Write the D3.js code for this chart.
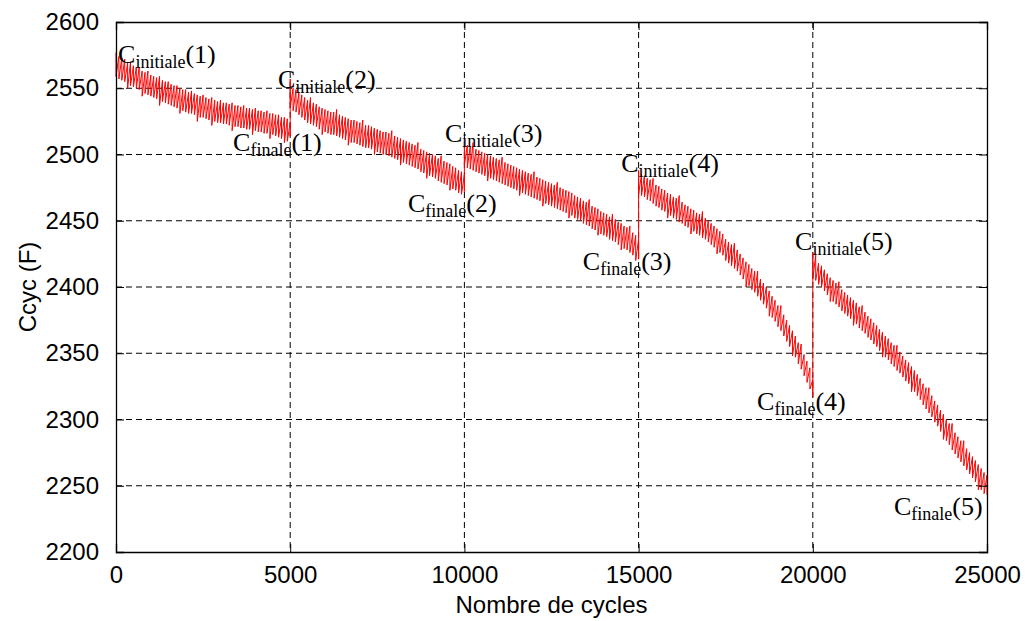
<!DOCTYPE html>
<html>
<head>
<meta charset="utf-8">
<script src="https://cdn.jsdelivr.net/npm/d3@7"></script>
<style>
  html, body { margin: 0; padding: 0; background: #fff; }
  svg { display: block; }
  .tick-label { font-family: "Liberation Sans", Arial, sans-serif; font-size: 24px; fill: #000; }
  .axis-title { font-family: "Liberation Sans", Arial, sans-serif; font-size: 24px; fill: #000; }
  .annot { font-family: "Liberation Serif", "Times New Roman", serif; fill: #000; }
</style>
</head>
<body>
<svg id="chart" width="1028" height="621"></svg>
<script>
// ---- data ----
const xTicks = [0, 5000, 10000, 15000, 20000, 25000];
const yTicks = [2200, 2250, 2300, 2350, 2400, 2450, 2500, 2550, 2600];
const segmentStarts = [0, 5000, 10000, 15000, 20000];
const segmentLength = 5000;

// upper / lower excursion of capacitance at each sample of each 5000-cycle block
const seg1Hi = [2577, 2574, 2573, 2572, 2569, 2570, 2567, 2566, 2566, 2563, 2562, 2563, 2560, 2559, 2558, 2559,
  2556, 2555, 2555, 2553, 2552, 2552, 2550, 2549, 2549, 2547, 2548, 2546, 2545, 2544, 2545, 2543, 2542, 2543,
  2541, 2540, 2541, 2539, 2539, 2538, 2539, 2537, 2537, 2536, 2537, 2535, 2535, 2534, 2535, 2533, 2533, 2532,
  2533, 2531, 2531, 2530, 2530, 2528, 2528, 2527, 2524];
const seg1Lo = [2559, 2557, 2556, 2555, 2550, 2552, 2551, 2550, 2549, 2544, 2546, 2545, 2544, 2543, 2542, 2537,
  2540, 2539, 2538, 2537, 2536, 2535, 2531, 2533, 2532, 2531, 2531, 2530, 2525, 2528, 2528, 2527, 2526, 2522,
  2525, 2524, 2524, 2523, 2523, 2522, 2518, 2521, 2521, 2520, 2520, 2519, 2519, 2515, 2518, 2517, 2517, 2516,
  2516, 2512, 2515, 2514, 2513, 2512, 2509, 2510, 2514];
const seg2Hi = [2557, 2550, 2549, 2547, 2545, 2543, 2541, 2543, 2539, 2538, 2536, 2535, 2534, 2533, 2532, 2532,
  2534, 2530, 2529, 2528, 2527, 2526, 2526, 2525, 2524, 2526, 2522, 2522, 2521, 2520, 2519, 2518, 2517, 2517,
  2516, 2518, 2514, 2513, 2512, 2511, 2510, 2509, 2508, 2507, 2509, 2504, 2503, 2502, 2501, 2500, 2499, 2497,
  2499, 2495, 2494, 2493, 2491, 2490, 2488, 2487, 2485];
const seg2Lo = [2535, 2533, 2532, 2530, 2528, 2526, 2524, 2523, 2522, 2521, 2519, 2515, 2517, 2516, 2515, 2515,
  2514, 2513, 2512, 2511, 2507, 2509, 2509, 2508, 2507, 2506, 2505, 2505, 2504, 2500, 2502, 2501, 2500, 2500,
  2499, 2498, 2497, 2496, 2492, 2494, 2493, 2492, 2491, 2490, 2489, 2487, 2486, 2482, 2484, 2483, 2482, 2480,
  2479, 2478, 2477, 2473, 2474, 2473, 2471, 2470, 2472];
const seg3Hi = [2511, 2507, 2506, 2509, 2504, 2503, 2502, 2501, 2500, 2499, 2498, 2497, 2496, 2498, 2494, 2493,
  2492, 2491, 2490, 2489, 2488, 2487, 2486, 2485, 2487, 2483, 2482, 2481, 2480, 2479, 2478, 2477, 2479, 2475,
  2474, 2473, 2472, 2471, 2469, 2468, 2467, 2465, 2464, 2466, 2461, 2460, 2459, 2457, 2456, 2455, 2453, 2455,
  2451, 2449, 2448, 2446, 2445, 2446, 2441, 2439, 2436];
const seg3Lo = [2492, 2490, 2489, 2488, 2487, 2486, 2485, 2484, 2480, 2482, 2481, 2480, 2479, 2478, 2477, 2476,
  2475, 2474, 2473, 2469, 2471, 2470, 2469, 2468, 2467, 2466, 2465, 2461, 2463, 2462, 2461, 2460, 2459, 2458,
  2457, 2456, 2452, 2454, 2452, 2451, 2450, 2448, 2447, 2446, 2444, 2443, 2439, 2440, 2439, 2438, 2436, 2435,
  2434, 2432, 2428, 2429, 2428, 2426, 2424, 2420, 2421];
const seg4Hi = [2488, 2485, 2484, 2482, 2481, 2482, 2477, 2476, 2474, 2473, 2471, 2470, 2468, 2467, 2469, 2464,
  2462, 2461, 2459, 2458, 2456, 2455, 2457, 2452, 2450, 2448, 2446, 2444, 2442, 2440, 2436, 2434, 2432, 2433,
  2428, 2425, 2422, 2419, 2417, 2414, 2412, 2412, 2406, 2403, 2400, 2397, 2393, 2390, 2386, 2386, 2379, 2375,
  2371, 2367, 2363, 2358, 2357, 2349, 2344, 2339, 2330];
const seg4Lo = [2470, 2469, 2468, 2466, 2465, 2463, 2461, 2460, 2458, 2457, 2452, 2454, 2452, 2451, 2449, 2448,
  2446, 2445, 2440, 2442, 2440, 2439, 2437, 2436, 2434, 2432, 2430, 2425, 2426, 2424, 2420, 2418, 2416, 2414,
  2412, 2409, 2406, 2400, 2401, 2398, 2396, 2393, 2390, 2387, 2384, 2378, 2377, 2374, 2370, 2367, 2363, 2359,
  2355, 2348, 2347, 2342, 2338, 2333, 2328, 2323, 2317];
const seg5Hi = [2426, 2424, 2418, 2416, 2413, 2410, 2407, 2405, 2403, 2404, 2398, 2396, 2394, 2392, 2390, 2388,
  2385, 2386, 2381, 2378, 2376, 2373, 2371, 2368, 2366, 2363, 2361, 2358, 2356, 2356, 2351, 2348, 2345, 2343,
  2340, 2337, 2334, 2331, 2327, 2324, 2324, 2318, 2314, 2311, 2307, 2304, 2300, 2297, 2297, 2290, 2287, 2284,
  2284, 2278, 2275, 2272, 2269, 2266, 2263, 2260, 2258];
const seg5Lo = [2406, 2405, 2402, 2400, 2397, 2394, 2389, 2389, 2387, 2385, 2382, 2380, 2378, 2376, 2371, 2372,
  2369, 2367, 2365, 2362, 2360, 2357, 2355, 2352, 2347, 2347, 2345, 2342, 2340, 2337, 2335, 2332, 2329, 2327,
  2321, 2321, 2318, 2315, 2311, 2308, 2305, 2302, 2298, 2295, 2291, 2285, 2284, 2281, 2277, 2274, 2271, 2268,
  2265, 2262, 2259, 2256, 2253, 2247, 2247, 2244, 2243];
const segHi = [seg1Hi, seg2Hi, seg3Hi, seg4Hi, seg5Hi];
const segLo = [seg1Lo, seg2Lo, seg3Lo, seg4Lo, seg5Lo];

// annotation labels: subscript kind, index, anchor in data units
const annotKind = ["initiale", "initiale", "finale", "initiale", "finale", "initiale", "finale", "initiale", "finale", "finale"];
const annotNum = ["1", "2", "1", "3", "2", "4", "3", "5", "4", "5"];
const annotCycle = [60, 4650, 3360, 9440, 8380, 14500, 13400, 19490, 18400, 22330];
const annotValue = [2569, 2550, 2502.5, 2509.5, 2456.5, 2487, 2413, 2428, 2307, 2228];

// ---- layout ----
const margin = { left: 116, right: 1028 - 987, top: 22, bottom: 621 - 552 };
const W = 1028, H = 621;
const svg = d3.select("#chart");
const iw = W - margin.left - margin.right;
const ih = H - margin.top - margin.bottom;
const g = svg.append("g").attr("transform", `translate(${margin.left},${margin.top})`);

const x = d3.scaleLinear().domain([0, 25000]).range([0, iw]);
const y = d3.scaleLinear().domain([2200, 2600]).range([ih, 0]);

// grid
g.append("g").selectAll("line").data(xTicks.slice(1, -1)).join("line")
  .attr("x1", d => x(d)).attr("x2", d => x(d)).attr("y1", 0).attr("y2", ih)
  .attr("stroke", "#000").attr("stroke-width", 1).attr("stroke-dasharray", "6,4");
g.append("g").selectAll("line").data(yTicks.slice(1, -1)).join("line")
  .attr("y1", d => y(d)).attr("y2", d => y(d)).attr("x1", 0).attr("x2", iw)
  .attr("stroke", "#000").attr("stroke-width", 1).attr("stroke-dasharray", "6,4");

// series points: each sample is a vertical excursion hi -> lo
const pts = [];
segHi.forEach((hi, k) => {
  const lo = segLo[k];
  const step = segmentLength / (hi.length - 1);
  hi.forEach((v, i) => {
    const c = segmentStarts[k] + i * step;
    pts.push([c, v]);
    pts.push([c, lo[i]]);
  });
});
const line = d3.line().x(d => x(d[0])).y(d => y(d[1]));
g.append("path").datum(pts).attr("d", line)
  .attr("fill", "none").attr("stroke", "#ff0000").attr("stroke-width", 1)
  .attr("stroke-linejoin", "bevel");

// axes (ticks inward, labels outside)
const tickLen = 8;
const xAxisB = d3.axisBottom(x).tickValues(xTicks).tickSize(-tickLen).tickPadding(tickLen + 6).tickFormat(d3.format("d"));
const yAxisL = d3.axisLeft(y).tickValues(yTicks).tickSize(-tickLen).tickPadding(tickLen + 9).tickFormat(d3.format("d"));
const xAxisT = d3.axisTop(x).tickValues(xTicks).tickSize(-tickLen).tickFormat("");
const yAxisR = d3.axisRight(y).tickValues(yTicks).tickSize(-tickLen).tickFormat("");

function style(sel) {
  sel.select(".domain").attr("stroke", "#000").attr("stroke-width", 1.3);
  sel.selectAll(".tick line").attr("stroke", "#000").attr("stroke-width", 1);
  sel.selectAll(".tick text").attr("class", "tick-label").attr("fill", "#000")
    .style("font-family", '"Liberation Sans", Arial, sans-serif').style("font-size", "24px");
}
g.append("g").attr("transform", `translate(0,${ih})`).call(xAxisB).call(style);
g.append("g").call(yAxisL).call(style);
g.append("g").call(xAxisT).call(style);
g.append("g").attr("transform", `translate(${iw},0)`).call(yAxisR).call(style);

// annotations
annotKind.forEach((kind, i) => {
  const t = g.append("text").attr("class", "annot")
    .attr("x", x(annotCycle[i])).attr("y", y(annotValue[i]));
  t.append("tspan").style("font-size", "26px").text("C");
  t.append("tspan").style("font-size", "18px").attr("dy", 5).text(kind);
  t.append("tspan").style("font-size", "26px").attr("dy", -5).text("(" + annotNum[i] + ")");
});

// axis titles
svg.append("text").attr("class", "axis-title").attr("text-anchor", "middle")
  .attr("x", margin.left + iw / 2).attr("y", 613).text("Nombre de cycles");
svg.append("text").attr("class", "axis-title").attr("text-anchor", "middle")
  .attr("transform", `translate(36,${margin.top + ih / 2}) rotate(-90)`).text("Ccyc (F)");
</script>
</body>
</html>
